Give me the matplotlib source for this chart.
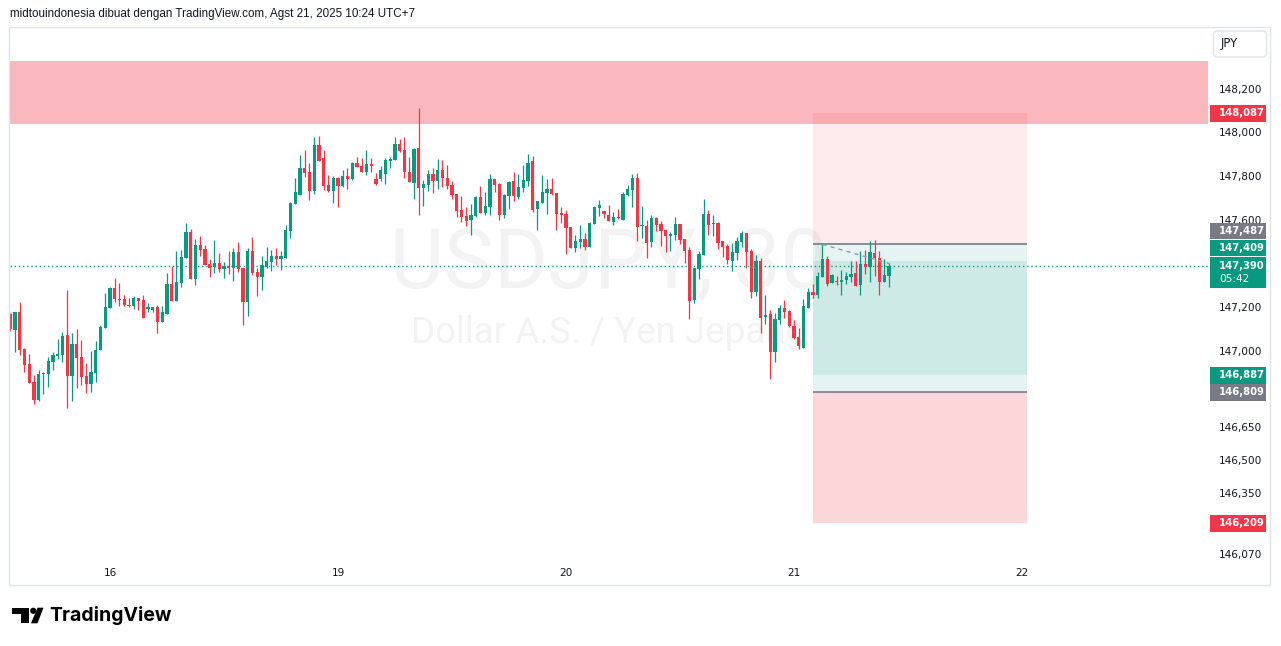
import matplotlib
matplotlib.use('Agg')
import matplotlib.pyplot as plt
from matplotlib.patches import Rectangle, FancyBboxPatch, Circle, Polygon
from matplotlib.transforms import IdentityTransform

# USDJPY 30 min candles (oldest first)
opens = [147.168, 147.095, 147.178, 147.008, 146.938, 146.857, 146.775, 146.892, 146.894, 146.950,
         146.978, 146.981, 147.072, 146.884, 147.031, 146.971, 146.884, 146.848, 146.900, 147.004,
         147.106, 147.197, 147.288, 147.237, 147.237, 147.210, 147.205, 147.242, 147.233, 147.193,
         147.187, 147.200, 147.132, 147.168, 147.306, 147.228, 147.310, 147.425, 147.544, 147.329,
         147.485, 147.466, 147.397, 147.384, 147.402, 147.375, 147.388, 147.379, 147.452, 147.379,
         147.223, 147.457, 147.361, 147.338, 147.384, 147.407, 147.434, 147.420, 147.425, 147.549,
         147.672, 147.714, 147.837, 147.819, 147.732, 147.943, 147.883, 147.759, 147.732, 147.791,
         147.755, 147.801, 147.787, 147.860, 147.846, 147.819, 147.856, 147.787, 147.787, 147.810,
         147.869, 147.874, 147.947, 147.920, 147.819, 147.769, 147.929, 147.746, 147.759, 147.810,
         147.778, 147.828, 147.791, 147.759, 147.718, 147.645, 147.617, 147.599, 147.617, 147.704,
         147.631, 147.659, 147.787, 147.764, 147.622, 147.709, 147.778, 147.704, 147.746, 147.778,
         147.869, 147.649, 147.677, 147.723, 147.741, 147.723, 147.631, 147.627, 147.567, 147.471,
         147.498, 147.512, 147.475, 147.581, 147.654, 147.640, 147.622, 147.590, 147.613, 147.599,
         147.714, 147.736, 147.791, 147.572, 147.572, 147.498, 147.608, 147.581, 147.553, 147.526,
         147.530, 147.581, 147.512, 147.462, 147.233, 147.375, 147.439, 147.627, 147.581, 147.585,
         147.503, 147.480, 147.411, 147.448, 147.498, 147.540, 147.457, 147.269, 147.411, 147.155,
         147.168, 146.994, 147.141, 147.196, 147.182, 147.113, 147.063, 147.013, 147.196, 147.269,
         147.255, 147.338, 147.420, 147.310, 147.320, 147.315, 147.324, 147.338, 147.356, 147.301,
         147.397, 147.384, 147.448, 147.425, 147.315, 147.342]
highs = [147.175, 147.178, 147.223, 147.013, 146.984, 146.889, 146.912, 146.904, 146.971, 146.993,
         147.054, 147.086, 147.278, 147.081, 147.100, 147.049, 146.944, 146.999, 147.045, 147.118,
         147.265, 147.292, 147.333, 147.310, 147.255, 147.242, 147.251, 147.242, 147.255, 147.219,
         147.200, 147.210, 147.205, 147.356, 147.388, 147.457, 147.462, 147.585, 147.558, 147.512,
         147.526, 147.485, 147.420, 147.507, 147.448, 147.407, 147.457, 147.471, 147.498, 147.379,
         147.471, 147.521, 147.379, 147.434, 147.475, 147.462, 147.471, 147.457, 147.576, 147.681,
         147.791, 147.897, 147.920, 147.860, 147.979, 147.984, 147.920, 147.805, 147.801, 147.796,
         147.828, 147.837, 147.865, 147.888, 147.883, 147.920, 147.883, 147.814, 147.846, 147.883,
         147.888, 147.979, 147.970, 147.979, 147.888, 147.929, 148.112, 147.782, 147.828, 147.837,
         147.878, 147.874, 147.851, 147.778, 147.718, 147.709, 147.659, 147.672, 147.709, 147.755,
         147.727, 147.810, 147.787, 147.769, 147.718, 147.778, 147.819, 147.810, 147.851, 147.901,
         147.892, 147.686, 147.805, 147.787, 147.791, 147.723, 147.659, 147.645, 147.567, 147.530,
         147.576, 147.540, 147.590, 147.663, 147.691, 147.640, 147.668, 147.636, 147.649, 147.727,
         147.759, 147.810, 147.814, 147.663, 147.599, 147.622, 147.613, 147.594, 147.553, 147.544,
         147.613, 147.581, 147.512, 147.475, 147.379, 147.457, 147.695, 147.645, 147.622, 147.590,
         147.503, 147.489, 147.494, 147.521, 147.549, 147.540, 147.466, 147.439, 147.425, 147.255,
         147.187, 147.173, 147.210, 147.233, 147.187, 147.141, 147.104, 147.237, 147.288, 147.306,
         147.361, 147.494, 147.434, 147.352, 147.342, 147.370, 147.361, 147.411, 147.411, 147.457,
         147.462, 147.503, 147.507, 147.457, 147.420, 147.402]
lows = [147.090, 146.996, 146.981, 146.904, 146.854, 146.758, 146.770, 146.802, 146.834, 146.912,
        146.962, 146.946, 146.739, 146.770, 146.831, 146.843, 146.804, 146.813, 146.857, 147.004,
        147.106, 147.197, 147.223, 147.205, 147.205, 147.200, 147.191, 147.187, 147.150, 147.178,
        147.178, 147.081, 147.132, 147.168, 147.228, 147.228, 147.292, 147.425, 147.329, 147.301,
        147.434, 147.393, 147.338, 147.356, 147.361, 147.333, 147.352, 147.320, 147.361, 147.118,
        147.159, 147.347, 147.251, 147.278, 147.379, 147.365, 147.393, 147.370, 147.425, 147.517,
        147.672, 147.714, 147.796, 147.691, 147.718, 147.869, 147.736, 147.727, 147.677, 147.659,
        147.750, 147.741, 147.782, 147.842, 147.819, 147.805, 147.819, 147.759, 147.778, 147.764,
        147.837, 147.874, 147.911, 147.791, 147.773, 147.695, 147.622, 147.663, 147.732, 147.723,
        147.741, 147.750, 147.741, 147.695, 147.613, 147.590, 147.572, 147.530, 147.613, 147.631,
        147.622, 147.622, 147.727, 147.599, 147.608, 147.649, 147.686, 147.695, 147.727, 147.755,
        147.636, 147.553, 147.677, 147.627, 147.714, 147.553, 147.585, 147.443, 147.471, 147.452,
        147.471, 147.462, 147.475, 147.581, 147.617, 147.608, 147.594, 147.576, 147.604, 147.599,
        147.709, 147.659, 147.503, 147.517, 147.425, 147.475, 147.549, 147.480, 147.452, 147.457,
        147.507, 147.489, 147.402, 147.146, 147.219, 147.329, 147.439, 147.530, 147.526, 147.466,
        147.430, 147.397, 147.365, 147.416, 147.475, 147.379, 147.242, 147.251, 147.081, 147.123,
        146.871, 146.949, 147.123, 147.150, 147.109, 147.054, 147.008, 147.013, 147.196, 147.242,
        147.242, 147.338, 147.297, 147.310, 147.301, 147.255, 147.306, 147.315, 147.297, 147.255,
        147.352, 147.315, 147.342, 147.255, 147.315, 147.292]
closes = [147.098, 147.178, 147.004, 146.935, 146.854, 146.775, 146.894, 146.900, 146.953, 146.981,
          146.985, 147.068, 146.884, 147.031, 146.967, 146.881, 146.848, 146.903, 147.004, 147.109,
          147.200, 147.288, 147.237, 147.233, 147.210, 147.205, 147.242, 147.228, 147.150, 147.200,
          147.200, 147.132, 147.178, 147.306, 147.228, 147.315, 147.430, 147.544, 147.329, 147.485,
          147.462, 147.393, 147.379, 147.402, 147.375, 147.388, 147.379, 147.452, 147.375, 147.223,
          147.457, 147.356, 147.338, 147.393, 147.411, 147.434, 147.420, 147.434, 147.553, 147.677,
          147.727, 147.837, 147.814, 147.732, 147.943, 147.869, 147.755, 147.732, 147.791, 147.755,
          147.801, 147.787, 147.860, 147.842, 147.819, 147.856, 147.846, 147.764, 147.828, 147.874,
          147.878, 147.947, 147.915, 147.819, 147.773, 147.924, 147.746, 147.764, 147.810, 147.778,
          147.828, 147.791, 147.755, 147.714, 147.640, 147.613, 147.594, 147.622, 147.704, 147.631,
          147.663, 147.787, 147.759, 147.622, 147.714, 147.773, 147.709, 147.750, 147.782, 147.860,
          147.645, 147.686, 147.727, 147.741, 147.718, 147.627, 147.622, 147.562, 147.471, 147.503,
          147.512, 147.475, 147.585, 147.659, 147.668, 147.627, 147.594, 147.613, 147.608, 147.718,
          147.741, 147.791, 147.567, 147.576, 147.494, 147.608, 147.576, 147.549, 147.526, 147.535,
          147.581, 147.507, 147.457, 147.228, 147.379, 147.443, 147.627, 147.576, 147.585, 147.494,
          147.475, 147.416, 147.452, 147.503, 147.540, 147.452, 147.269, 147.411, 147.150, 147.164,
          146.994, 147.146, 147.196, 147.178, 147.113, 147.059, 147.022, 147.205, 147.269, 147.255,
          147.342, 147.420, 147.306, 147.347, 147.315, 147.324, 147.342, 147.352, 147.297, 147.397,
          147.384, 147.452, 147.425, 147.315, 147.347, 147.388]

day_labels = ['16', '19', '20', '21', '22']
day_index = [21, 69, 117, 165, 213]
price_ticks = [148.2, 148.0, 147.8, 147.6, 147.2, 147.0, 146.65, 146.5, 146.35, 146.07]

zone_lo, zone_hi = 148.040, 148.327      # resistance zone
last_price = 147.390
short_entry, short_stop, short_target = 147.487, 148.087, 146.887
long_entry, long_stop, long_target = 146.809, 146.209, 147.409
pos_start, pos_end = 169, 214.05

# price tags on the right scale: price, colour, vertical shift in px
tag_prices = [148.087, 147.487, 147.409, 146.887, 146.809, 146.209]
tag_colors = ['#F23645', '#787B86', '#089981', '#089981', '#787B86', '#F23645']
tag_shift = [0, -13.5, -13.5, 0, 0, 0]

UP, DOWN = '#089981', '#F23645'
TXT = '#131722'
W, H = 1281, 646

fig = plt.figure(figsize=(W / 100, H / 100), dpi=100)
fig.patch.set_facecolor('white')


def fx(px):
    return px / W


def fy(py):
    return 1 - py / H


ax = fig.add_axes([fx(10), fy(562), fx(1208) - fx(10), fy(27) - fy(562)])
ax.set_xlim(-0.05, 252.16)
ax.set_ylim(146.032, 148.483)
for s in ax.spines.values():
    s.set_visible(False)

# watermark
ax.text(0.5, 0.555, 'USDJPY, 30', transform=ax.transAxes, ha='center', va='center',
        fontsize=60, color='#F3F3F4', family='Roboto', zorder=0)
ax.text(0.5, 0.428, 'Dollar A.S. / Yen Jepang', transform=ax.transAxes, ha='center', va='center',
        fontsize=26.5, color='#F3F3F4', family='Roboto', zorder=0)

# resistance zone
ax.axhspan(zone_lo, zone_hi, color='#F23645', alpha=0.35, lw=0, zorder=1)

# position tools
ax.fill_between([pos_start, pos_end], short_entry, short_stop, color=DOWN, alpha=0.1, lw=0, zorder=1)
ax.fill_between([pos_start, pos_end], short_target, short_entry, color=UP, alpha=0.1, lw=0, zorder=1)
ax.fill_between([pos_start, pos_end], long_stop, long_entry, color=DOWN, alpha=0.2, lw=0, zorder=1)
ax.fill_between([pos_start, pos_end], long_entry, long_target, color=UP, alpha=0.1, lw=0, zorder=1)
ax.hlines([short_entry, long_entry], pos_start, pos_end, color='#787B86', lw=1.2, zorder=2)
ax.plot([171, 185], [short_entry, 147.40], color='#9598A1', lw=1, ls=(0, (3, 3)), zorder=4)

# candles
x = list(range(len(opens)))
cols = [UP if c >= o else DOWN for o, c in zip(opens, closes)]
bottoms = [min(o, c) for o, c in zip(opens, closes)]
heights = [max(abs(c - o), 0.004) for o, c in zip(opens, closes)]
ax.vlines(x, lows, highs, colors=cols, lw=0.9, zorder=3)
ax.bar(x, heights, bottom=bottoms, width=0.68, color=cols, lw=0, zorder=3)

# last price line
ax.axhline(last_price, color=UP, lw=1, ls=(0, (1, 2)), zorder=2.5)

# axes ticks
ax.yaxis.tick_right()
ax.set_yticks(price_ticks)
ax.set_yticklabels([f'{p:.3f}'.replace('.', ',') for p in price_ticks])
ax.set_xticks(day_index)
ax.set_xticklabels(day_labels)
ax.tick_params(axis='y', length=0, pad=7.5, labelsize=7.6, labelcolor=TXT)
ax.tick_params(axis='x', length=0, pad=4.5, labelsize=7.6, labelcolor=TXT)


def price_px(p):
    return H - ax.transData.transform((0, p))[1]


# tags on the price scale
for p, c, sh in zip(tag_prices, tag_colors, tag_shift):
    yc = price_px(p) + sh
    fig.add_artist(Rectangle((fx(1210), fy(yc + 8.3)), fx(1266) - fx(1210), 16.6 / H,
                             color=c, lw=0, transform=fig.transFigure))
    fig.text(fx(1219), fy(yc), f'{p:.3f}'.replace('.', ','), color='white',
             fontsize=7.2, fontweight='bold', va='center')

yc = price_px(last_price)
fig.add_artist(Rectangle((fx(1210), fy(yc + 22)), fx(1266) - fx(1210), 31 / H,
                         color=UP, lw=0, transform=fig.transFigure))
fig.text(fx(1219), fy(yc), f'{last_price:.3f}'.replace('.', ','), color='white',
         fontsize=7.2, fontweight='bold', va='center')
fig.text(fx(1219), fy(yc + 13.5), '05:42', color='white', fontsize=7.6, va='center')

# currency button
fig.add_artist(FancyBboxPatch((1213.5, H - 57), 53, 26, boxstyle='round,pad=0,rounding_size=4',
                              fc='white', ec='#E0E3EB', lw=1, transform=IdentityTransform()))
fig.text(fx(1221), fy(44), 'JPY', color=TXT, fontsize=8.3, va='center')

# outer frame
fig.add_artist(Rectangle((fx(9), fy(585)), fx(1270) - fx(9), fy(27) - fy(585), fill=False,
                         ec='#E0E3EB', lw=1, transform=fig.transFigure))

# header
fig.text(fx(10), fy(14), 'midtouindonesia dibuat dengan TradingView.com, Agst 21, 2025 10:24 UTC+7',
         color=TXT, fontsize=8.4, family='Liberation Sans', va='center')

# TradingView logo
ident = IdentityTransform()
fig.add_artist(Polygon([(12.3, H - 607.7), (29.3, H - 607.7), (29.3, H - 623.3), (20.7, H - 623.3),
                        (20.7, H - 614), (12.3, H - 614)], closed=True, fc='black', lw=0, transform=ident))
fig.add_artist(Circle((33.2, H - 610.8), 3.1, fc='black', lw=0, transform=ident))
fig.add_artist(Polygon([(37.5, H - 607.7), (43.5, H - 607.7), (37.5, H - 623.3), (31, H - 623.3)],
                       closed=True, fc='black', lw=0, transform=ident))
fig.text(fx(49), fy(615.5), 'TradingView', color='black', fontsize=14, fontweight='bold',
         family='Inter', va='center')

fig.savefig('out.png', dpi=100, facecolor='white')
